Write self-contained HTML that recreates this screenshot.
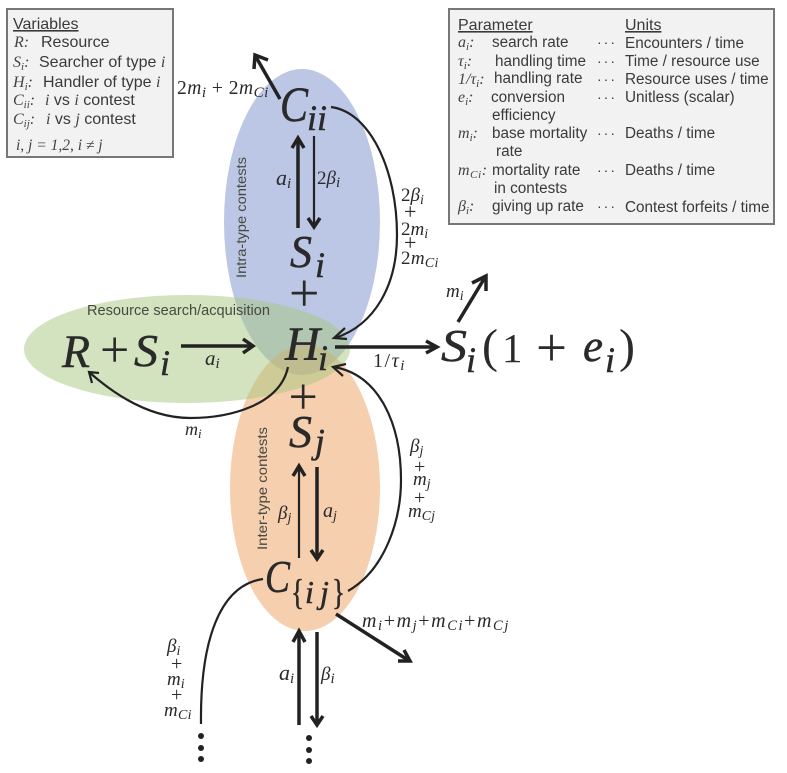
<!DOCTYPE html>
<html><head><meta charset="utf-8">
<style>
html,body{margin:0;padding:0;background:#fff;width:787px;height:773px;overflow:hidden}
svg{display:block}
text{font-family:"Liberation Serif",serif;fill:#2a2a2a}
.m{font-style:italic}
.b{stroke:#2a2a2a;stroke-width:.5}
.n{font-style:normal}
.c{font-family:"Liberation Sans",sans-serif;fill:#454a40}
.t{font-family:"Liberation Sans",sans-serif;font-size:15.3px;fill:#3a3a3a}
.tv{font-family:"Liberation Sans",sans-serif;font-size:16px;fill:#3a3a3a}
.v{font-family:"Liberation Serif",serif;font-style:italic;font-size:16px;fill:#444}
.u{text-decoration:underline}
.d{font-family:"Liberation Sans",sans-serif;font-size:14px;letter-spacing:2px;fill:#3a3a3a}
.h{fill:none;stroke:#222;stroke-width:3.5;stroke-linecap:butt;stroke-linejoin:miter}
.h2{fill:none;stroke:#222;stroke-width:2.2;stroke-linecap:butt;stroke-linejoin:miter}
</style></head>
<body>
<svg width="787" height="773" viewBox="0 0 787 773" xmlns="http://www.w3.org/2000/svg">
<!-- ellipses -->
<ellipse cx="302" cy="222" rx="78" ry="153" fill="#bcc6e5"/>
<ellipse cx="305" cy="488" rx="75" ry="143" fill="#ed9f5d" opacity=".5"/>
<ellipse cx="187" cy="349" rx="163" ry="54" fill="#a7c77f" opacity=".5"/>

<!-- Variables box -->
<rect x="7" y="9" width="166" height="148" fill="#f2f2f2" stroke="#777" stroke-width="2"/>
<text class="tv u" x="13" y="29">Variables</text>
<text class="v" x="14" y="47">R:</text><text class="tv" x="41" y="47">Resource</text>
<text class="v" x="13" y="67">S<tspan font-size="11" dy="3">i</tspan><tspan dy="-3">:</tspan></text><text class="tv" x="39" y="67">Searcher of type <tspan class="v">i</tspan></text>
<text class="v" x="13" y="87">H<tspan font-size="11" dy="3">i</tspan><tspan dy="-3">:</tspan></text><text class="tv" x="43" y="87">Handler of type <tspan class="v">i</tspan></text>
<text class="v" x="13" y="105">C<tspan font-size="11" dy="3">ii</tspan><tspan dy="-3">:</tspan></text><text class="tv" x="45" y="105"><tspan class="v">i</tspan> vs <tspan class="v">i</tspan> contest</text>
<text class="v" x="13" y="124">C<tspan font-size="11" dy="3">ij</tspan><tspan dy="-3">:</tspan></text><text class="tv" x="46" y="124"><tspan class="v">i</tspan> vs <tspan class="v">j</tspan> contest</text>
<text class="v" x="16" y="150" style="font-size:15.5px">i, j = 1,2, i ≠ j</text>

<!-- Parameter box -->
<rect x="449" y="9" width="325" height="215" fill="#f2f2f2" stroke="#777" stroke-width="2"/>
<text class="tv u" x="458" y="30">Parameter</text><text class="tv u" x="625" y="30">Units</text>
<g>
<text class="v" x="458" y="47">a<tspan font-size="11" dy="3">i</tspan><tspan dy="-3">:</tspan></text><text class="t" x="492" y="47">search rate</text><text class="d" x="597" y="47">···</text><text class="t" x="625" y="48">Encounters / time</text>
<text class="v" x="458" y="66">τ<tspan font-size="11" dy="3">i</tspan><tspan dy="-3">:</tspan></text><text class="t" x="495" y="66">handling time</text><text class="d" x="597" y="66">···</text><text class="t" x="625" y="66">Time / resource use</text>
<text class="v" x="458" y="84">1/τ<tspan font-size="11" dy="3">i</tspan><tspan dy="-3">:</tspan></text><text class="t" x="494" y="83">handling rate</text><text class="d" x="597" y="84">···</text><text class="t" x="625" y="84">Resource uses / time</text>
<text class="v" x="458" y="102">e<tspan font-size="11" dy="3">i</tspan><tspan dy="-3">:</tspan></text><text class="t" x="491" y="102">conversion</text><text class="d" x="597" y="102">···</text><text class="t" x="625" y="102">Unitless (scalar)</text>
<text class="t" x="492" y="120">efficiency</text>
<text class="v" x="458" y="138">m<tspan font-size="11" dy="3">i</tspan><tspan dy="-3">:</tspan></text><text class="t" x="492" y="138">base mortality</text><text class="d" x="597" y="138">···</text><text class="t" x="625" y="138">Deaths / time</text>
<text class="t" x="496" y="156">rate</text>
<text class="v" x="458" y="175" letter-spacing=".6">m<tspan font-size="11" dy="3">Ci</tspan><tspan dy="-3">:</tspan></text><text class="t" x="492" y="175">mortality rate</text><text class="d" x="597" y="175">···</text><text class="t" x="625" y="175">Deaths / time</text>
<text class="t" x="494" y="193">in contests</text>
<text class="v" x="458" y="211">β<tspan font-size="11" dy="3">i</tspan><tspan dy="-3">:</tspan></text><text class="t" x="492" y="211">giving up rate</text><text class="d" x="597" y="211">···</text><text class="t" x="625" y="212">Contest forfeits / time</text>
</g>

<!-- vertical labels -->
<text class="c" font-size="14" textLength="121" lengthAdjust="spacingAndGlyphs" transform="translate(246,278) rotate(-90)">Intra-type contests</text>
<text class="c" font-size="14" textLength="123" lengthAdjust="spacingAndGlyphs" transform="translate(267,550) rotate(-90)">Inter-type contests</text>
<text class="c" x="87" y="315" font-size="14.5" textLength="183" lengthAdjust="spacingAndGlyphs">Resource search/acquisition</text>

<!-- Main nodes -->
<text class="m b" x="280" y="121" font-size="50" textLength="28" lengthAdjust="spacingAndGlyphs">C</text>
<text class="m b" x="307" y="130" font-size="36">ii</text>
<text class="m b" x="290" y="267" font-size="46" textLength="22" lengthAdjust="spacingAndGlyphs">S</text>
<text class="m b" x="315" y="277" font-size="36">i</text>
<text x="289" y="311" font-size="54">+</text>
<text class="m b" x="285" y="360" font-size="48" textLength="35" lengthAdjust="spacingAndGlyphs">H</text>
<text class="m b" x="318" y="370" font-size="36">i</text>
<text x="288.5" y="414" font-size="52">+</text>
<text class="m b" x="289" y="447" font-size="46" textLength="23" lengthAdjust="spacingAndGlyphs">S</text>
<text class="m b" x="315" y="453" font-size="35">j</text>
<text class="m b" x="265" y="592" font-size="46" textLength="25" lengthAdjust="spacingAndGlyphs">C</text>
<text x="291" y="604" font-size="36" class="b" textLength="13" lengthAdjust="spacingAndGlyphs">{</text>
<text class="m b" x="305" y="603" font-size="32">i</text>
<text class="m b" x="320" y="603" font-size="32">j</text>
<text x="332" y="604" font-size="36" class="b" textLength="13" lengthAdjust="spacingAndGlyphs">}</text>
<text class="m b" x="62" y="367" font-size="47" textLength="28" lengthAdjust="spacingAndGlyphs">R</text>
<text x="100" y="367" font-size="52">+</text>
<text class="m b" x="134" y="366" font-size="46" textLength="24" lengthAdjust="spacingAndGlyphs">S</text>
<text class="m b" x="160" y="375" font-size="36">i</text>
<text class="m b" x="441" y="361" font-size="46" textLength="26" lengthAdjust="spacingAndGlyphs">S</text>
<text class="m b" x="466" y="372" font-size="36">i</text>
<text x="482" y="362" font-size="48">(</text>
<text x="502" y="362" font-size="41">1</text>
<text x="536" y="366" font-size="55">+</text>
<text class="m b" x="583" y="361" font-size="45">e</text>
<text class="m b" x="605" y="372" font-size="36">i</text>
<text x="619" y="362" font-size="48">)</text>

<!-- small labels -->
<text class="m" font-size="19.5" letter-spacing=".5" x="177" y="94"><tspan class="n">2</tspan>m<tspan font-size="15" dy="3">i</tspan><tspan dy="-3" class="n"> + 2</tspan>m<tspan font-size="15" dy="3">Ci</tspan></text>
<text class="m" font-size="22" x="276" y="185">a<tspan font-size="15" dy="3">i</tspan></text>
<text class="m" font-size="19" x="317" y="184"><tspan class="n">2</tspan>β<tspan font-size="15" dy="3">i</tspan></text>
<text class="m" font-size="19" x="401" y="201"><tspan class="n">2</tspan>β<tspan font-size="14" dy="3">i</tspan></text>
<text font-size="22" x="404" y="219">+</text>
<text class="m" font-size="19" x="401" y="235"><tspan class="n">2</tspan>m<tspan font-size="14" dy="3">i</tspan></text>
<text font-size="22" x="404" y="250">+</text>
<text class="m" font-size="19" x="401" y="264" letter-spacing=".3"><tspan class="n">2</tspan>m<tspan font-size="14" dy="3">Ci</tspan></text>
<text class="m" font-size="21" x="205" y="365">a<tspan font-size="15" dy="3">i</tspan></text>
<text class="m" font-size="18" x="185" y="435">m<tspan font-size="13" dy="3">i</tspan></text>
<text class="m" font-size="19" x="446" y="297">m<tspan font-size="14" dy="3">i</tspan></text>
<text font-size="20" x="373" y="367" letter-spacing="1.5">1/<tspan class="m">τ</tspan><tspan class="m" font-size="15" dy="3">i</tspan></text>
<text class="m" font-size="19" x="410" y="452">β<tspan font-size="14" dy="3">j</tspan></text>
<text font-size="20" x="414" y="473">+</text>
<text class="m" font-size="19" x="413" y="485">m<tspan font-size="14" dy="3">j</tspan></text>
<text font-size="20" x="414" y="504">+</text>
<text class="m" font-size="19" x="408" y="517">m<tspan font-size="14" dy="3">Cj</tspan></text>
<text class="m" font-size="19" x="278" y="519">β<tspan font-size="14" dy="3">j</tspan></text>
<text class="m" font-size="20" x="323" y="517">a<tspan font-size="14" dy="3">j</tspan></text>
<text class="m" font-size="20" letter-spacing="1.6" x="362" y="627">m<tspan font-size="14.5" dy="3">i</tspan><tspan dy="-3" class="n">+</tspan>m<tspan font-size="14.5" dy="3">j</tspan><tspan dy="-3" class="n">+</tspan>m<tspan font-size="14.5" dy="3">Ci</tspan><tspan dy="-3" class="n">+</tspan>m<tspan font-size="14.5" dy="3">Cj</tspan></text>
<text class="m" font-size="19" x="167" y="652">β<tspan font-size="14" dy="3">i</tspan></text>
<text font-size="20" x="171" y="670">+</text>
<text class="m" font-size="19" x="167" y="685">m<tspan font-size="14" dy="3">i</tspan></text>
<text font-size="20" x="171" y="701">+</text>
<text class="m" font-size="19" x="164" y="716" letter-spacing=".3">m<tspan font-size="14" dy="3">Ci</tspan></text>
<text class="m" font-size="22" x="279" y="680">a<tspan font-size="15" dy="3">i</tspan></text>
<text class="m" font-size="19" x="321" y="680">β<tspan font-size="15" dy="3">i</tspan></text>

<!-- straight arrows -->
<path class="h" d="M280 99L256 57"/><path class="h" d="M254 69L255 55L268 60"/>
<path class="h" d="M298 228V139"/><path class="h" d="M292 148L298 138L304 148"/>
<path class="h2" d="M314 136V225"/><path class="h" d="M308 218L314 227L320 218"/>
<path class="h" d="M181 346H251"/><path class="h" d="M243 339L253 346L243 353"/>
<path class="h" d="M335 347H435"/><path class="h" d="M426 341L437 347L426 353"/>
<path class="h" d="M458 322L484 279"/><path class="h" d="M472 283L486 276L486 291"/>
<path class="h2" d="M299 558V468"/><path class="h" d="M293 476L299 466L305 476"/>
<path class="h" d="M317 467V557"/><path class="h" d="M311 550L317 559L323 550"/>
<path class="h" d="M336 614L408 660"/><path class="h" d="M398 661L410 661L404 650"/>
<path class="h" d="M299 725V633"/><path class="h" d="M293 642L299 631L305 642"/>
<path class="h" d="M317 632V723"/><path class="h" d="M311 716L317 725L323 716"/>

<!-- curves -->
<path class="h2" d="M331 107C370 112 397 170 397 235C397 285 375 325 335 338"/>
<path class="h2" d="M345 328L334 338L347 339"/>
<path class="h2" d="M288 367C280 405 230 418 190 418C150 418 115 395 89 372"/>
<path class="h2" d="M99 373L89 372L92 383"/>
<path class="h2" d="M348 591C385 570 401 520 401 480C401 425 380 375 334 367"/>
<path class="h2" d="M346 364L333 367L343 376"/>
<path class="h2" d="M263 579C220 585 200 640 201 724"/>

<!-- dots -->
<g fill="#222">
<circle cx="201" cy="736" r="3"/><circle cx="201" cy="748" r="3"/><circle cx="201" cy="759" r="3"/>
<circle cx="309" cy="738" r="3"/><circle cx="309" cy="750" r="3"/><circle cx="309" cy="761" r="3"/>
</g>
</svg>
</body></html>
